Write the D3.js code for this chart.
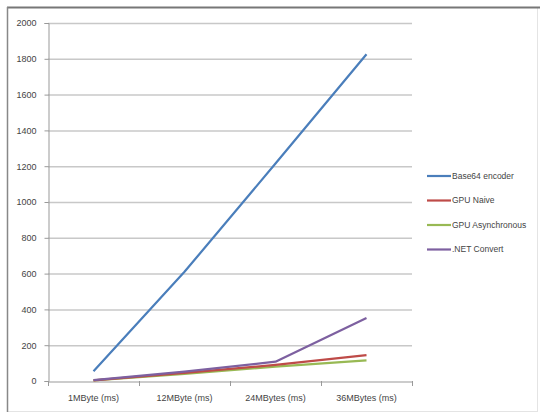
<!DOCTYPE html>
<html><head><meta charset="utf-8">
<script src="https://cdn.jsdelivr.net/npm/d3@7"></script>
<style>body{margin:0;background:#fff}svg{display:block}</style>
</head><body>
<script>
const categories = ["1MByte (ms)", "12MByte (ms)", "24MBytes (ms)", "36MBytes (ms)"];
const seriesNames = ["Base64 encoder", "GPU Naive", "GPU Asynchronous", ".NET Convert"];
const base64 = [55, 610, 1215, 1825];
const gpuNaive = [4, 45, 90, 145];
const gpuAsync = [3, 40, 80, 115];
const netConvert = [5, 52, 108, 352];
const yTicks = [0, 200, 400, 600, 800, 1000, 1200, 1400, 1600, 1800, 2000];
const colors = ["#4a7ebb", "#be4b48", "#98b954", "#7d60a0"];

(function () {
const W = 540, H = 414;
const svg = d3.select("body").append("svg").attr("width", W).attr("height", H);
// frame
svg.append("rect").attr("x", 7.5).attr("y", 7.5).attr("width", 530).attr("height", 404)
  .attr("fill", "#fff").attr("stroke", "#e4e4e4");
svg.append("line").attr("x1", 7).attr("x2", 540).attr("y1", 7.5).attr("y2", 7.5).attr("stroke", "#777").attr("stroke-width", 2);
svg.append("line").attr("x1", 7.5).attr("x2", 7.5).attr("y1", 7).attr("y2", 412).attr("stroke", "#888").attr("stroke-width", 1.5);

const mLeft = 48, mRight = 412, mTop = 23, mBottom = 381;
const x = d3.scaleBand().domain(categories).range([mLeft, mRight]);
const y = d3.scaleLinear().domain([0, 2000]).range([mBottom, mTop]);

// gridlines
svg.append("g").selectAll("line").data(yTicks.filter(d => d > 0)).join("line")
  .attr("x1", mLeft).attr("x2", mRight).attr("y1", d => y(d) + 0.5).attr("y2", d => y(d) + 0.5)
  .attr("stroke", "#c8c8c8").attr("stroke-width", 1.5);

// y axis
const yAxis = svg.append("g").attr("transform", `translate(${mLeft + 0.5},0)`)
  .call(d3.axisLeft(y).tickValues(yTicks).tickSize(4).tickPadding(8).tickFormat(d3.format("d")));
yAxis.select(".domain").attr("stroke", "#999");
yAxis.selectAll(".tick line").attr("stroke", "#999");
yAxis.selectAll("text").attr("fill", "#444").style("font-family", "Liberation Sans, Arial, sans-serif").style("font-size", "9px");

// x axis
const xAxis = svg.append("g").attr("transform", `translate(0,${mBottom + 0.5})`)
  .call(d3.axisBottom(x).tickSize(0).tickPadding(13));
xAxis.select(".domain").attr("stroke", "#999");
xAxis.selectAll("text").attr("fill", "#444").style("font-family", "Liberation Sans, Arial, sans-serif").style("font-size", "9px");
svg.append("g").selectAll("line").data(categories).join("line")
  .attr("x1", d => x(d) + x.bandwidth() + 0.5).attr("x2", d => x(d) + x.bandwidth() + 0.5)
  .attr("y1", mBottom).attr("y2", mBottom + 5).attr("stroke", "#999");
svg.append("line").attr("x1", mLeft + 0.5).attr("x2", mLeft + 0.5).attr("y1", mBottom).attr("y2", mBottom + 5).attr("stroke", "#999");

// lines
const allSeries = [base64, gpuNaive, gpuAsync, netConvert];
const line = d3.line().x((d, i) => x(categories[i]) + x.bandwidth() / 2).y(d => y(d));
const order = [2, 1, 3, 0];
order.forEach(k => {
  svg.append("path").datum(allSeries[k]).attr("d", line)
    .attr("fill", "none").attr("stroke", colors[k]).attr("stroke-width", 2.2).attr("stroke-linejoin", "round");
});

// legend
const lg = svg.append("g");
seriesNames.forEach((n, i) => {
  const ly = 176 + i * 24.5;
  lg.append("line").attr("x1", 427).attr("x2", 451).attr("y1", ly).attr("y2", ly)
    .attr("stroke", colors[i]).attr("stroke-width", 2.2);
  lg.append("text").attr("x", 452).attr("y", ly).attr("dy", "0.35em").text(n)
    .attr("fill", "#444").style("font-family", "Liberation Sans, Arial, sans-serif").style("font-size", "8.5px");
});
})();
</script>
</body></html>
